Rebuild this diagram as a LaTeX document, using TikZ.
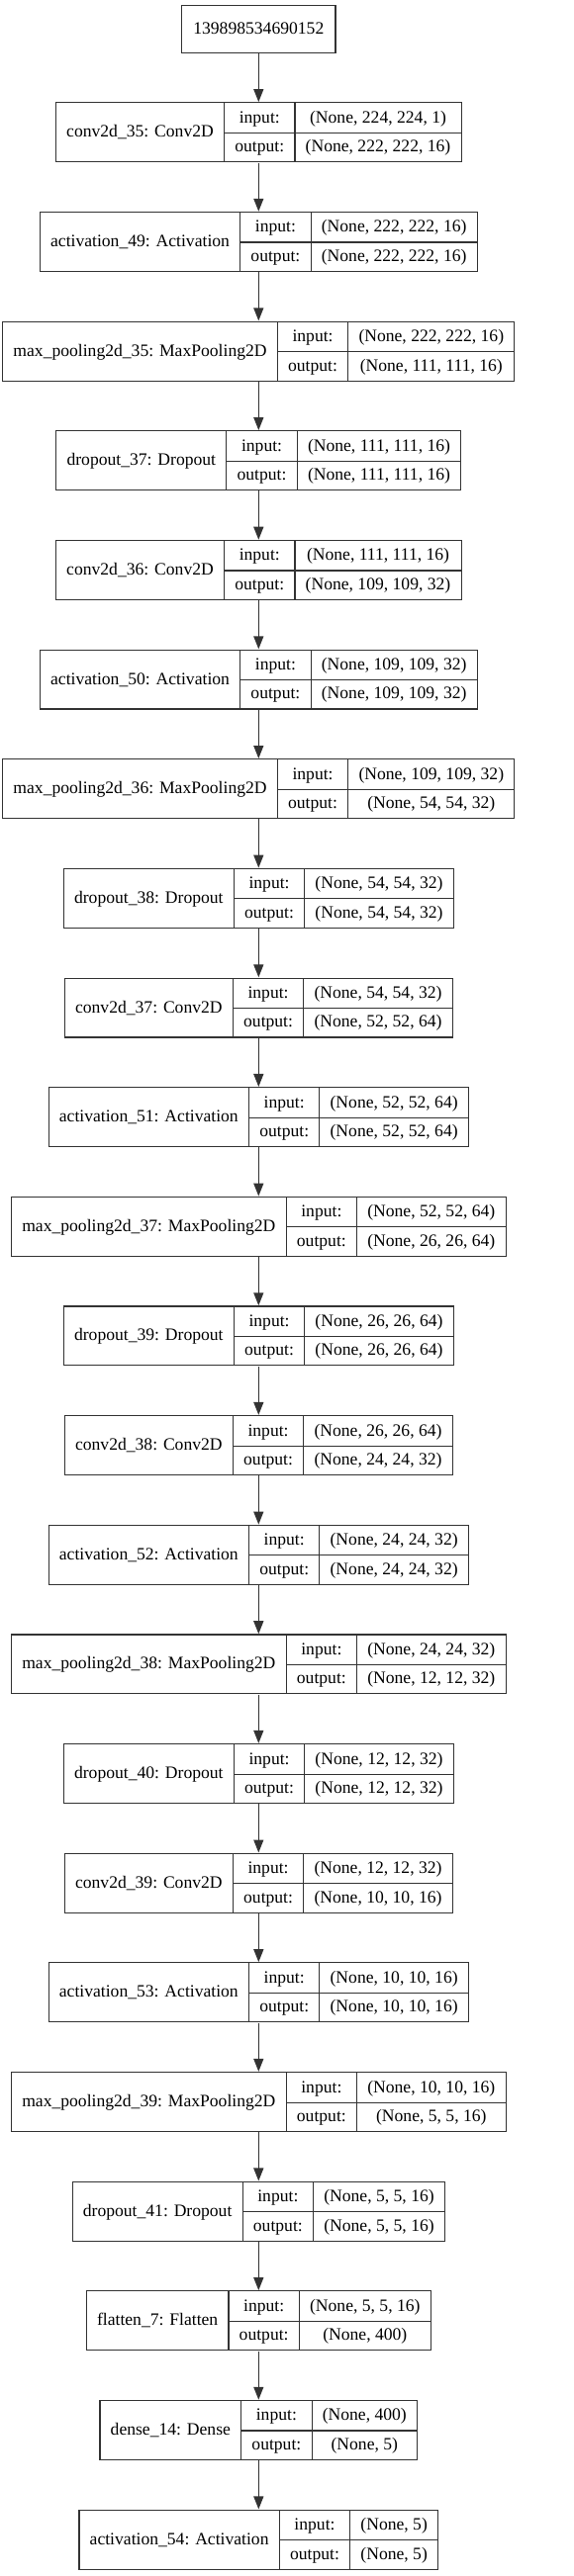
\documentclass[tikz,border=0pt]{standalone}
\usepackage{fontspec}
\setmainfont{Liberation Serif}
\usepackage{colortbl}
\usetikzlibrary{arrows.meta}
\newcommand\lfont{\fontsize{17.6}{20}\selectfont}
\setlength\tabcolsep{10.2pt}
\setlength\arrayrulewidth{1.1pt}
\arrayrulecolor{black!80}
\def\cx{261.3}
\newcommand\RowStrut{\rule[-9.5pt]{0pt}{29.4pt}}
\newcommand\recTable[3]{%
  \begin{tabular}{|c|c|c|}\hline
  \RowStrut & input: & #2\\ \cline{2-3}
  \RowStrut\raisebox{14.9pt}[0pt][0pt]{#1} & output: & #3\\ \hline
  \end{tabular}}
\tikzset{
  rec/.style={inner sep=0pt, font=\lfont},
  plainbox/.style={draw=black!80, line width=1.1pt, inner sep=0pt, font=\lfont, text height=14pt, text depth=3.6pt},
  edge/.style={draw=black!80, line width=1.3pt, -{Triangle[width=10pt,length=13pt]}}
}
\newcommand\kerasLayer[5]{%
  \pgfmathsetmacro\yc{103.3+110.65*#5+30.5}%
  \node[rec] (#1) at (\cx,\yc) {\recTable{#2}{#3}{#4}};
}
\begin{document}
\begin{tikzpicture}[x=1pt,y=-1pt]
\useasboundingbox (0,0) rectangle (580,2605);
\node[plainbox, minimum width=155.3pt, minimum height=48pt] (inp) at (\cx,29.7) {139898534690152};
\kerasLayer{L0}{conv2d\_35: Conv2D}{(None, 224, 224, 1)}{(None, 222, 222, 16)}{0}
\kerasLayer{L1}{activation\_49: Activation}{(None, 222, 222, 16)}{(None, 222, 222, 16)}{1}
\kerasLayer{L2}{max\_pooling2d\_35: MaxPooling2D}{(None, 222, 222, 16)}{(None, 111, 111, 16)}{2}
\kerasLayer{L3}{dropout\_37: Dropout}{(None, 111, 111, 16)}{(None, 111, 111, 16)}{3}
\kerasLayer{L4}{conv2d\_36: Conv2D}{(None, 111, 111, 16)}{(None, 109, 109, 32)}{4}
\kerasLayer{L5}{activation\_50: Activation}{(None, 109, 109, 32)}{(None, 109, 109, 32)}{5}
\kerasLayer{L6}{max\_pooling2d\_36: MaxPooling2D}{(None, 109, 109, 32)}{(None, 54, 54, 32)}{6}
\kerasLayer{L7}{dropout\_38: Dropout}{(None, 54, 54, 32)}{(None, 54, 54, 32)}{7}
\kerasLayer{L8}{conv2d\_37: Conv2D}{(None, 54, 54, 32)}{(None, 52, 52, 64)}{8}
\kerasLayer{L9}{activation\_51: Activation}{(None, 52, 52, 64)}{(None, 52, 52, 64)}{9}
\kerasLayer{L10}{max\_pooling2d\_37: MaxPooling2D}{(None, 52, 52, 64)}{(None, 26, 26, 64)}{10}
\kerasLayer{L11}{dropout\_39: Dropout}{(None, 26, 26, 64)}{(None, 26, 26, 64)}{11}
\kerasLayer{L12}{conv2d\_38: Conv2D}{(None, 26, 26, 64)}{(None, 24, 24, 32)}{12}
\kerasLayer{L13}{activation\_52: Activation}{(None, 24, 24, 32)}{(None, 24, 24, 32)}{13}
\kerasLayer{L14}{max\_pooling2d\_38: MaxPooling2D}{(None, 24, 24, 32)}{(None, 12, 12, 32)}{14}
\kerasLayer{L15}{dropout\_40: Dropout}{(None, 12, 12, 32)}{(None, 12, 12, 32)}{15}
\kerasLayer{L16}{conv2d\_39: Conv2D}{(None, 12, 12, 32)}{(None, 10, 10, 16)}{16}
\kerasLayer{L17}{activation\_53: Activation}{(None, 10, 10, 16)}{(None, 10, 10, 16)}{17}
\kerasLayer{L18}{max\_pooling2d\_39: MaxPooling2D}{(None, 10, 10, 16)}{(None, 5, 5, 16)}{18}
\kerasLayer{L19}{dropout\_41: Dropout}{(None, 5, 5, 16)}{(None, 5, 5, 16)}{19}
\kerasLayer{L20}{flatten\_7: Flatten}{(None, 5, 5, 16)}{(None, 400)}{20}
\kerasLayer{L21}{dense\_14: Dense}{(None, 400)}{(None, 5)}{21}
\kerasLayer{L22}{activation\_54: Activation}{(None, 5)}{(None, 5)}{22}
\draw[edge] (inp.south) -- (L0.north);
\foreach \a [evaluate=\a as \b using int(\a+1)] in {0,...,21} {
  \draw[edge] (L\a.south) -- (L\b.north);
}
\end{tikzpicture}
\end{document}
